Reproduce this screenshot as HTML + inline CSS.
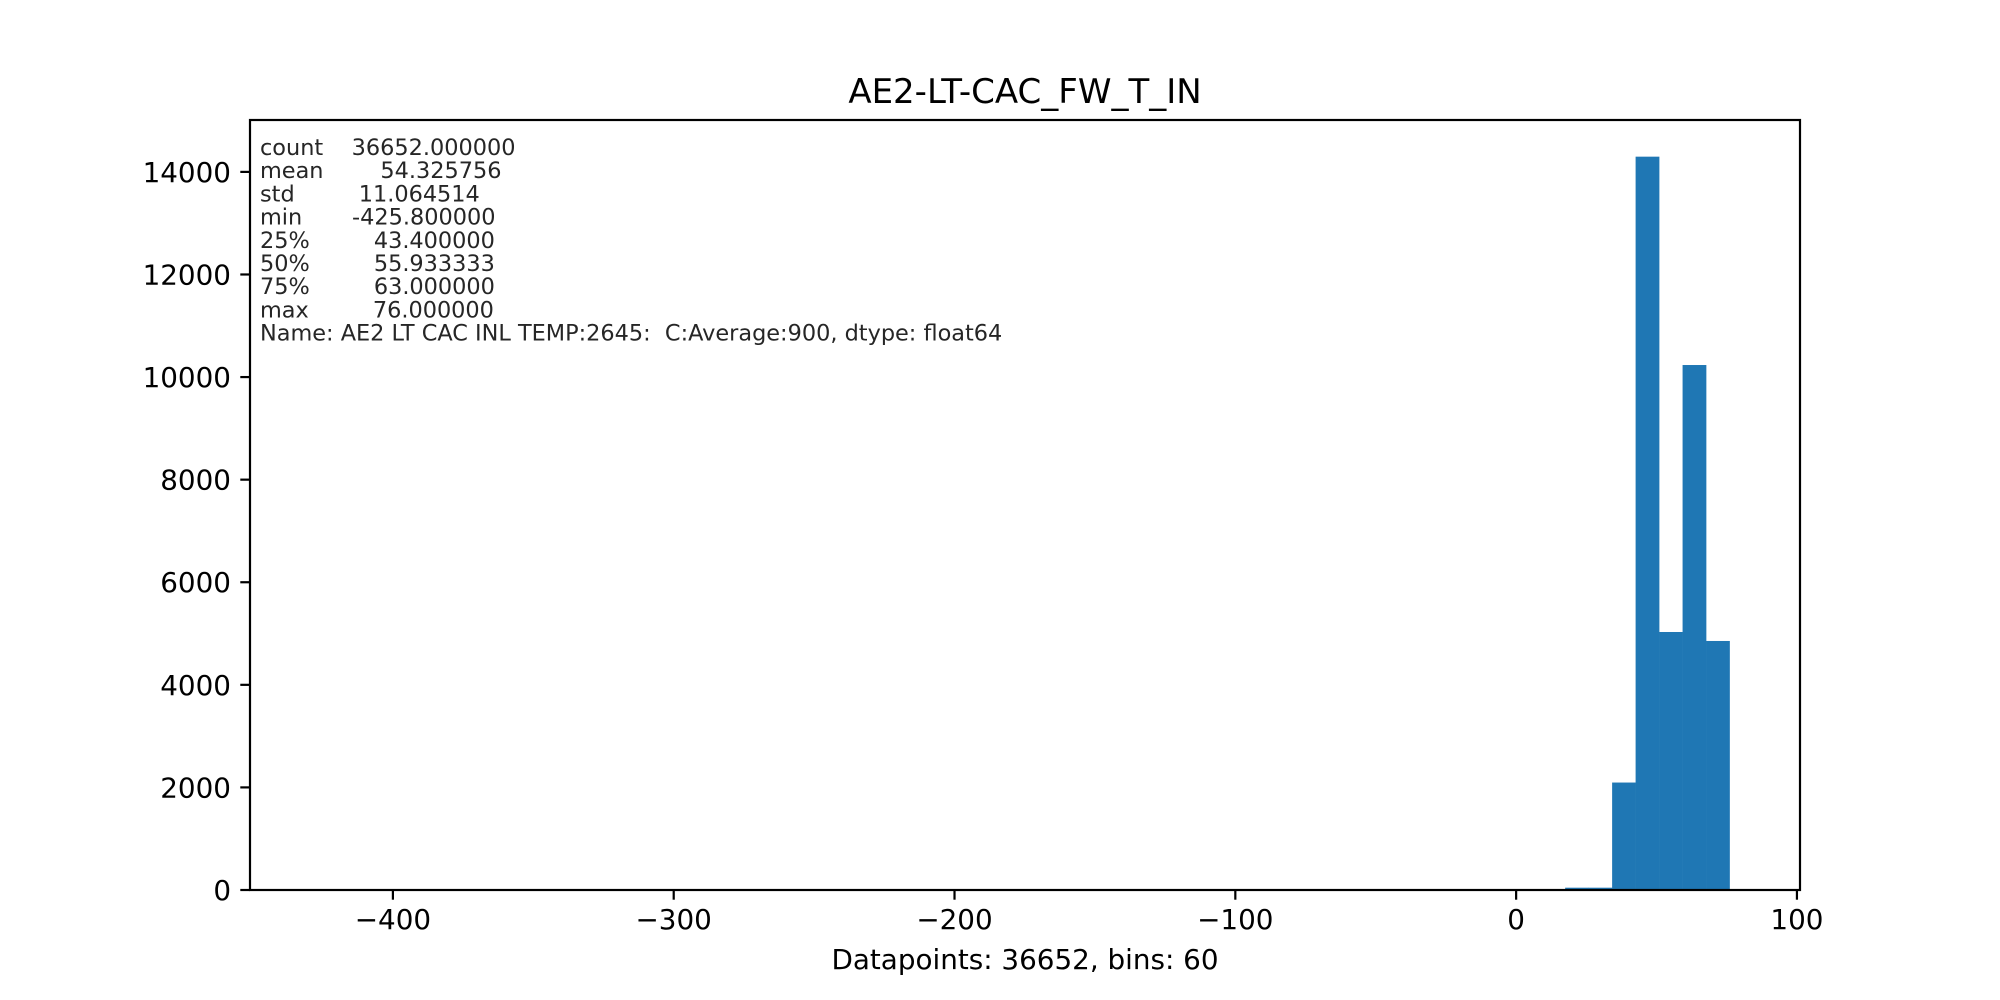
<!DOCTYPE html>
<html><head><meta charset="utf-8"><style>
html,body{margin:0;padding:0;background:#fff}
svg{display:block}
text{font-family:"DejaVu Sans","Liberation Sans",sans-serif}
</style></head><body>
<svg id="chart" width="2000" height="1000" viewBox="0 0 2000 1000" xmlns="http://www.w3.org/2000/svg">
<rect width="2000" height="1000" fill="#fff"/>
<g id="bars"></g>
<g id="axes"></g>
<text x="1025" y="103" font-size="34" text-anchor="middle" fill="#000">AE2-LT-CAC_FW_T_IN</text>
<text x="1025" y="969" font-size="27.8" text-anchor="middle" fill="#000">Datapoints: 36652, bins: 60</text>
<text font-size="22.4" fill="#262626" style="white-space:pre">
<tspan x="260" y="155">count    36652.000000</tspan>
<tspan x="260" y="178.2">mean        54.325756</tspan>
<tspan x="260" y="201.4">std         11.064514</tspan>
<tspan x="260" y="224.6">min       -425.800000</tspan>
<tspan x="260" y="247.8">25%         43.400000</tspan>
<tspan x="260" y="271">50%         55.933333</tspan>
<tspan x="260" y="294.2">75%         63.000000</tspan>
<tspan x="260" y="317.4">max         76.000000</tspan>
<tspan x="260" y="340.6">Name: AE2 LT CAC INL TEMP:2645:  C:Average:900, dtype: float64</tspan>
</text>
</svg>
<script>
const binStart = -425.8;
const binEnd = 76.0;
const binCount = 60;
// counts for bins 53..59 (others ~0)
const binIndices = [0, 53, 54, 55, 56, 57, 58, 59];
const binValues = [1, 45, 45, 2095, 14297, 5030, 10235, 4855];
const xTicks = [-400, -300, -200, -100, 0, 100];
const yTicks = [0, 2000, 4000, 6000, 8000, 10000, 12000, 14000];

const L = 250, R = 1800, T = 120, B = 890;
const span = binEnd - binStart;
const xMin = binStart - span * 0.05, xMax = binEnd + span * 0.05;
const yMax = Math.max(...binValues) * 1.05;
const xs = v => L + (v - xMin) / (xMax - xMin) * (R - L);
const ys = v => B - v / yMax * (B - T);
const NS = 'http://www.w3.org/2000/svg';
const bars = document.getElementById('bars');
const axes = document.getElementById('axes');
const w = span / binCount;

binIndices.forEach((bi, i) => {
  const x0 = xs(binStart + bi * w), x1 = xs(binStart + (bi + 1) * w);
  const r = document.createElementNS(NS, 'rect');
  r.setAttribute('x', x0);
  r.setAttribute('width', x1 - x0 + 0.3);
  r.setAttribute('y', ys(binValues[i]));
  r.setAttribute('height', B - ys(binValues[i]));
  r.setAttribute('fill', '#1f77b4');
  
  
  bars.appendChild(r);
});

const frame = document.createElementNS(NS, 'rect');
frame.setAttribute('x', L); frame.setAttribute('y', T);
frame.setAttribute('width', R - L); frame.setAttribute('height', B - T);
frame.setAttribute('fill', 'none'); frame.setAttribute('stroke', '#000'); frame.setAttribute('stroke-width', '2.2');


axes.appendChild(frame);

xTicks.forEach(t => {
  const x = xs(t);
  const ln = document.createElementNS(NS, 'line');
  ln.setAttribute('x1', x); ln.setAttribute('x2', x);
  ln.setAttribute('y1', B); ln.setAttribute('y2', B + 9.7);
  ln.setAttribute('stroke', '#000'); ln.setAttribute('stroke-width', '2.2');
  
  
  axes.appendChild(ln);
  const tx = document.createElementNS(NS, 'text');
  tx.setAttribute('x', x); tx.setAttribute('y', 929);
  tx.setAttribute('font-size', '27.8'); tx.setAttribute('text-anchor', 'middle');
  tx.textContent = t < 0 ? '\u2212' + Math.abs(t) : String(t);
  
  
  axes.appendChild(tx);
});

yTicks.forEach(t => {
  const y = ys(t);
  const ln = document.createElementNS(NS, 'line');
  ln.setAttribute('x1', L - 9.7); ln.setAttribute('x2', L);
  ln.setAttribute('y1', y); ln.setAttribute('y2', y);
  ln.setAttribute('stroke', '#000'); ln.setAttribute('stroke-width', '2.2');
  
  
  axes.appendChild(ln);
  const tx = document.createElementNS(NS, 'text');
  tx.setAttribute('x', 231); tx.setAttribute('y', y + 10);
  tx.setAttribute('font-size', '27.8'); tx.setAttribute('text-anchor', 'end');
  tx.textContent = String(t);
  
  
  axes.appendChild(tx);
});
</script>
</body></html>
